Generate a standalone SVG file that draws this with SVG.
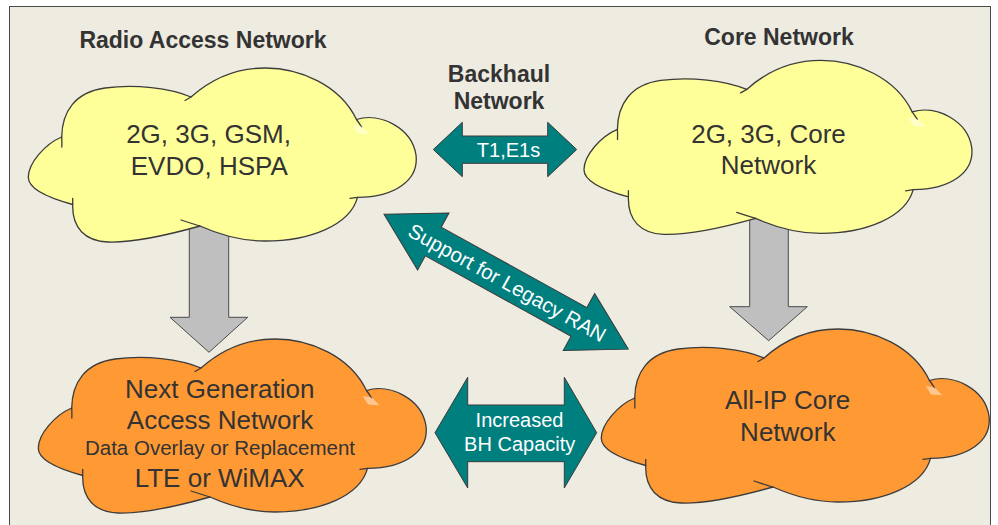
<svg xmlns="http://www.w3.org/2000/svg" xmlns:xlink="http://www.w3.org/1999/xlink" width="998" height="525" viewBox="0 0 998 525">
  <style>
    .head { font-family: "Liberation Sans", Arial, sans-serif; font-weight: bold; font-size: 23px; fill: #333333; text-anchor: middle; }
    .cl { font-family: "Liberation Sans", Arial, sans-serif; font-size: 26px; fill: #333333; text-anchor: middle; }
    .cls { font-family: "Liberation Sans", Arial, sans-serif; font-size: 20.5px; fill: #333333; text-anchor: middle; }
    .al { font-family: "Liberation Sans", Arial, sans-serif; font-size: 20.5px; fill: #ffffff; text-anchor: middle; }
    .teal { fill: #007f7f; stroke: #3a3a3a; stroke-width: 1; stroke-linejoin: miter; }
    .grey { fill: #bfbfbf; stroke: #4a4a4a; stroke-width: 1; }
    .edge { fill: none; stroke: #3c3c3c; stroke-width: 1.3; stroke-linecap: round; }
    .yellow { fill: #ffff99; }
    .orange { fill: #ff9933; }
    .shine { fill: #ffffff; opacity: 0.45; }
  </style>
  <defs>
    <!-- cloud outline: six lobes, drawn around its own origin -->
    <path id="cloudShape" d="M61.7,137 C62,112 75,92 105,88 C135,84 170,88 191,97 C210,80 235,68 265,68 C300,68 340,85 356.5,119.5 C380,112 412,128 416,155 C419,180 395,197 357.5,197.3 C350,225 310,241 265,241 C240,241 218,234 200,226 C175,233 135,243 108,242 C85,241 72,228 72.7,204.5 C45,197 28,188 28.3,177 C28.5,163 45,144 61.7,137 Z"/>
    <!-- inner arc ends where lobes overlap -->
    <path id="cloudTicks" d="M61.7,137 Q62,142 61.8,147 M191,97 L185,100.5 M356.5,119.5 Q359,123 361.7,127 M357.5,197.3 L350,198.4 M200,226 Q190,223 181,220 M72.7,204.5 L72.7,198.3"/>
    <path id="cloudShine" d="M352.7,125 L362,126.5 L369.3,134.3 L358,133.5 Z"/>
  </defs>

  <!-- page and frame -->
  <rect x="0" y="0" width="998" height="525" fill="#ffffff"/>
  <rect x="9.5" y="6.5" width="981" height="530" fill="#eeebe1" stroke="#4a4a4a" stroke-width="1"/>

  <!-- section headings -->
  <g id="headings">
    <text class="head" x="203" y="48.3">Radio Access Network</text>
    <text class="head" x="779" y="45">Core Network</text>
    <text class="head" x="499" y="81.7">Backhaul</text>
    <text class="head" x="499" y="109.3">Network</text>
  </g>

  <g id="connectors">
    <!-- evolution arrows -->
    <path id="ran-evolution" class="grey" d="M189.3,210 L228.7,210 L228.7,317.3 L247.7,317.3 L209,352.3 L170,317.3 L189.3,317.3 Z"/>
    <path id="core-evolution" class="grey" d="M749.7,200 L788.3,200 L788.3,306.7 L807.3,306.7 L768.7,340.7 L729.7,306.7 L749.7,306.7 Z"/>
    <!-- backhaul links -->
    <g id="link-t1e1">
      <path class="teal" d="M433.3,149.5 L462.3,122.3 L462.3,136 L547.7,136 L547.7,122.3 L576.7,149.5 L547.7,176.7 L547.7,163.3 L462.3,163.3 L462.3,176.7 Z"/>
      <text class="al" x="508.5" y="156.5" style="font-size:20px">T1,E1s</text>
    </g>
    <g id="link-legacy" transform="translate(384,214.3) rotate(28.9)">
      <path class="teal" d="M0,0 L56.3,-32.5 L56.3,-16.4 L222.7,-16.4 L222.7,-32.5 L279,0 L222.7,32.5 L222.7,16.4 L56.3,16.4 L56.3,32.5 Z"/>
      <text class="al" x="141" y="7.5">Support for Legacy RAN</text>
    </g>
    <g id="link-bh">
      <path class="teal" d="M435,432.7 L467.7,377.3 L467.7,405 L564.3,405 L564.3,377.3 L596.7,432.7 L564.3,488 L564.3,461.7 L467.7,461.7 L467.7,488 Z"/>
      <text class="al" x="519.5" y="426.7" style="font-size:20px">Increased</text>
      <text class="al" x="519.7" y="450.7" style="font-size:20px">BH Capacity</text>
    </g>
  </g>

  <g id="ran-legacy">
    <use xlink:href="#cloudShape" class="yellow"/>
    <use xlink:href="#cloudShape" class="edge"/>
    <use xlink:href="#cloudTicks" class="edge"/>
    <use xlink:href="#cloudShine" class="shine"/>
    <text class="cl" x="208.5" y="143.3">2G, 3G, GSM,</text>
    <text class="cl" x="209.3" y="175">EVDO, HSPA</text>
  </g>

  <g id="core-legacy" transform="translate(555.7,-7.6)">
    <use xlink:href="#cloudShape" class="yellow"/>
    <use xlink:href="#cloudShape" class="edge"/>
    <use xlink:href="#cloudTicks" class="edge"/>
    <use xlink:href="#cloudShine" class="shine"/>
    <text class="cl" x="212.8" y="150.3">2G, 3G, Core</text>
    <text class="cl" x="212.8" y="181.6">Network</text>
  </g>

  <g id="ran-next" transform="translate(10,271)">
    <use xlink:href="#cloudShape" class="orange"/>
    <use xlink:href="#cloudShape" class="edge"/>
    <use xlink:href="#cloudTicks" class="edge"/>
    <use xlink:href="#cloudShine" class="shine"/>
    <text class="cl" x="209.7" y="127.3">Next Generation</text>
    <text class="cl" x="210" y="158.3">Access Network</text>
    <text class="cls" x="210" y="184">Data Overlay or Replacement</text>
    <text class="cl" x="209.7" y="215.7">LTE or WiMAX</text>
  </g>

  <g id="core-allip" transform="translate(573,261)">
    <use xlink:href="#cloudShape" class="orange"/>
    <use xlink:href="#cloudShape" class="edge"/>
    <use xlink:href="#cloudTicks" class="edge"/>
    <use xlink:href="#cloudShine" class="shine"/>
    <text class="cl" x="214.7" y="148.3">All-IP Core</text>
    <text class="cl" x="214.8" y="179.7">Network</text>
  </g>
</svg>
